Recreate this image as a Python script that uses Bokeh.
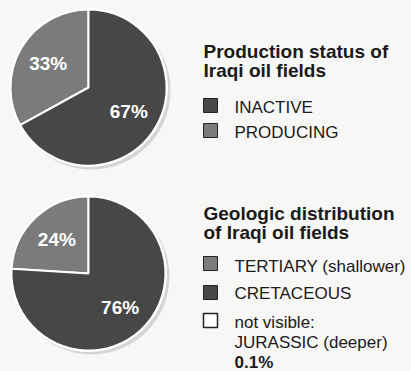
import math
from bokeh.plotting import figure
from bokeh.models import Range1d, ColumnDataSource
from bokeh.embed import file_html
from bokeh.resources import INLINE
from bokeh.core.properties import value

# ---------------- data ----------------
status_title = ["Production status of", "Iraqi oil fields"]
status_categories = ["PRODUCING", "INACTIVE"]
status_values = [33, 67]
status_legend_order = ["INACTIVE", "PRODUCING"]

geo_title = ["Geologic distribution", "of Iraqi oil fields"]
geo_categories = ["TERTIARY (shallower)", "CRETACEOUS"]
geo_values = [24, 76]
geo_hidden_label = ["not visible:", "JURASSIC (deeper)"]
geo_hidden_value = 0.1

colors = {"PRODUCING": "#7b7b7b", "INACTIVE": "#474747",
          "TERTIARY (shallower)": "#7b7b7b", "CRETACEOUS": "#474747"}

# ---------------- layout ----------------
W, H = 411, 371
FONT = value("Liberation Sans")

p = figure(width=W, height=H, output_backend="svg", toolbar_location=None,
           x_range=Range1d(0, W), y_range=Range1d(0, H), min_border=0,
           background_fill_color="#f7f7f5", border_fill_color="#f7f7f5",
           outline_line_color=None)
p.axis.visible = False
p.grid.visible = False


def pie(cx, cy, r, cats, vals):
    total = 100.0
    starts, ends, mids = [], [], []
    a = math.pi / 2
    for v in vals:
        s = a
        e = a + v / total * 2 * math.pi
        starts.append(s)
        ends.append(e)
        mids.append((s + e) / 2)
        a = e
    # shadow + white rim
    p.circle(x=[cx + 3], y=[cy - 3], radius=r + 1, fill_color="#cccccc",
             line_color=None, fill_alpha=0.8)
    p.circle(x=[cx], y=[cy], radius=r + 1.5, fill_color="white", line_color=None)
    src = ColumnDataSource(dict(x=[cx] * len(vals), y=[cy] * len(vals),
                                start=starts, end=ends,
                                color=[colors[c] for c in cats]))
    p.wedge(x="x", y="y", radius=r, start_angle="start", end_angle="end",
            fill_color="color", line_color="white", line_width=2, source=src)
    lx = [cx + 0.6 * r * math.cos(m) for m in mids]
    ly = [cy + 0.6 * r * math.sin(m) for m in mids]
    p.text(x=lx, y=ly, text=[f"{v}%" for v in vals], text_font=FONT,
           text_font_size=value("19px"), text_font_style="bold",
           text_color="white", text_align="center", text_baseline="middle")


pie(88, 284, 78, status_categories, status_values)
pie(88, 98, 77, geo_categories, geo_values)

TX = 203   # title left
IX = 234   # item text left
SX = 210   # swatch centre
DT = 6.5   # baseline correction, titles
DI = 5     # baseline correction, items

# legend 1
p.text(x=[TX, TX], y=[314 + DT, 295 + DT], text=status_title, text_font=FONT,
       text_font_size=value("19px"), text_font_style="bold",
       text_color="#1a1a1a", text_baseline="alphabetic")
p.rect(x=[SX, SX], y=[266, 241], width=14, height=14,
       fill_color=[colors[c] for c in status_legend_order], line_color="#222222")
p.text(x=[IX, IX], y=[259 + DI, 234 + DI], text=status_legend_order, text_font=FONT,
       text_font_size=value("17px"), text_color="#1a1a1a",
       text_baseline="alphabetic")

# legend 2
p.text(x=[TX, TX], y=[152 + DT, 133 + DT], text=geo_title, text_font=FONT,
       text_font_size=value("19px"), text_font_style="bold",
       text_color="#1a1a1a", text_baseline="alphabetic")
p.rect(x=[SX, SX, SX], y=[108, 79, 51], width=14, height=14,
       fill_color=[colors[geo_categories[0]], colors[geo_categories[1]], "white"],
       line_color="#222222", line_width=[1, 1, 1.5])
p.text(x=[IX, IX, IX, IX], y=[100 + DI, 73 + DI, 44 + DI, 24 + DI],
       text=geo_categories + geo_hidden_label, text_font=FONT,
       text_font_size=value("17px"), text_color="#1a1a1a",
       text_baseline="alphabetic")
p.text(x=[IX], y=[4 + DI], text=[f"{geo_hidden_value}%"], text_font=FONT,
       text_font_size=value("17px"), text_font_style="bold",
       text_color="#1a1a1a", text_baseline="alphabetic")

open("out.html", "w").write(file_html(p, INLINE))
